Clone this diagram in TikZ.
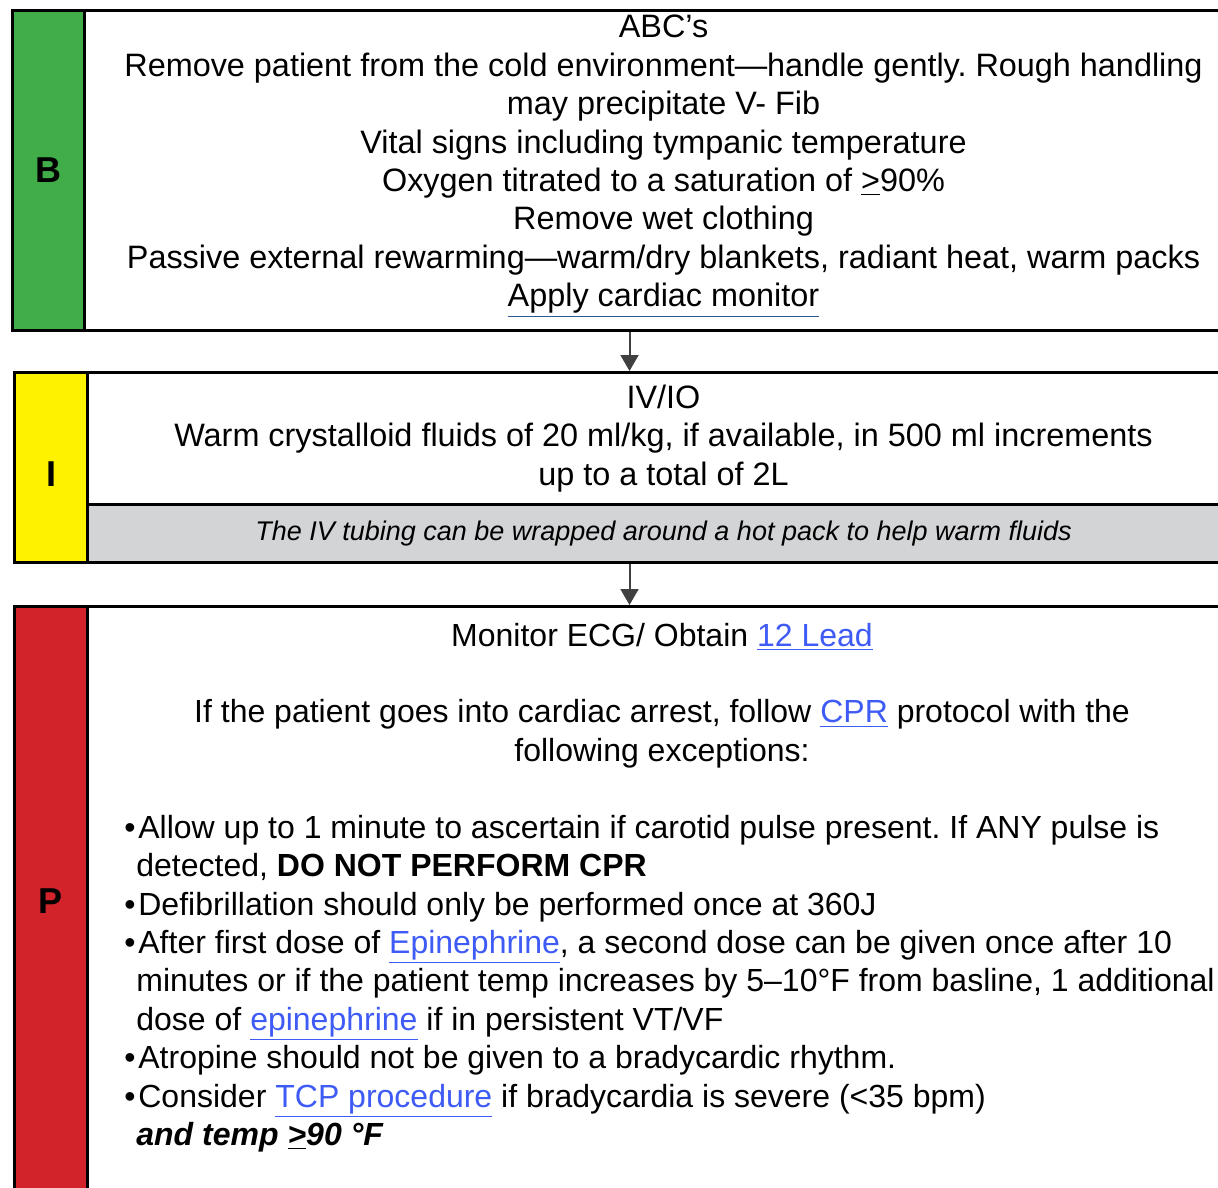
\documentclass[tikz,border=0pt]{standalone}
\usepackage{fontspec}
\setmainfont{Liberation Sans}
\usepackage{xcolor}
\usepackage{tikz}
\usetikzlibrary{arrows.meta, positioning}
\definecolor{bgreen}{HTML}{41AD49}
\definecolor{iyellow}{HTML}{FFF200}
\definecolor{pred}{HTML}{D2232A}
\definecolor{notegray}{HTML}{D3D4D6}
\definecolor{linkblue}{HTML}{3E5BF5}
\definecolor{ulblue}{HTML}{2B5797}
\definecolor{arrowgray}{HTML}{404040}
\newcommand{\lnk}[1]{{\color{linkblue}\underline{#1}}}
\newcommand{\bul}{\makebox[7pt][l]{\textbullet}}
\newcommand{\cont}{\hspace*{6pt}}
\frenchspacing
\tikzset{
    strip/.style = {rectangle, draw=black, line width=1.5pt, inner sep=0pt, minimum width=36.5pt, font=\fontsize{18}{18}\selectfont\bfseries},
    body/.style = {rectangle, draw=black, line width=1.5pt, fill=white, inner sep=0pt, minimum width=576pt, align=center, font=\fontsize{16.2}{19.2}\selectfont},
    note/.style = {body, fill=notegray, font=\fontsize{13.5}{16}\selectfont\itshape},
    txt/.style = {inner sep=0pt, font=\fontsize{16}{19.2}\selectfont},
    arrow/.style = {line width=1pt, draw=arrowgray, -{Triangle[length=8pt, width=9pt]}}
}
\begin{document}
\begin{tikzpicture}[x=1pt, y=1pt]
\useasboundingbox (0,0) rectangle (609,-593.5);

\node (bstrip) [strip, fill=bgreen, minimum width=36pt, minimum height=160pt, anchor=north west] at (5.5,-4.5) {B};
\node (bbody) [body, minimum width=579pt, minimum height=160pt, anchor=north west] at (41.5,-4.5) {ABC’s\\
Remove patient from the cold environment—handle gently. Rough handling\\
may precipitate V- Fib\\
Vital signs including tympanic temperature\\
Oxygen titrated to a saturation of \underline{>}90\%\\
Remove wet clothing\\
Passive external rewarming—warm/dry blankets, radiant heat, warm packs\\
{\color{ulblue}\underline{\color{black}Apply cardiac monitor}}\rule[-9.5pt]{0pt}{0pt}};

\node (istrip) [strip, fill=iyellow, minimum height=95pt, anchor=north west] at (6.5,-185.5) {I\rule{0pt}{19pt}};
\node (ibody) [body, minimum height=66pt, anchor=north west] at (43,-185.5) {IV/IO\\
Warm crystalloid fluids of 20 ml/kg, if available, in 500 ml increments\\
up to a total of 2L};
\node (inote) [note, minimum height=29pt, anchor=north west] at (43,-251.5) {The IV tubing can be wrapped around a hot pack to help warm fluids};

\node (pstrip) [strip, fill=pred, minimum height=295pt, anchor=north west] at (6.5,-302.5) {P};
\node (pbody) [body, minimum height=300pt, anchor=north west] at (43,-302.5) {};
\node (ptop) [txt, align=center, anchor=north] at (331,-311.3) {Monitor ECG/ Obtain \lnk{12 Lead}\\[19.2pt]
If the patient goes into cardiac arrest, follow \lnk{CPR} protocol with the\\
following exceptions:};
\node (plist) [txt, align=left, anchor=north west] at (62,-407.3) {\bul Allow up to 1 minute to ascertain if carotid pulse present. If ANY pulse is\\
\cont detected, \textbf{DO NOT PERFORM CPR}\\
\bul Defibrillation should only be performed once at 360J\\
\bul After first dose of \lnk{Epinephrine}, a second dose can be given once after 10\\
\cont minutes or if the patient temp increases by 5–10°F from basline, 1 additional\\
\cont dose of \lnk{epinephrine} if in persistent VT/VF\\
\bul Atropine should not be given to a bradycardic rhythm.\\
\bul Consider \lnk{TCP procedure} if bradycardia is severe (<35 bpm)\\
\cont \textbf{\textit{and temp \underline{>}90 °F}}};

\draw [arrow] ([xshift=-17pt]bbody.south) -- ([xshift=-17pt]ibody.north);
\draw [arrow] ([xshift=-17pt]inote.south) -- ([xshift=-17pt]pbody.north);
\end{tikzpicture}
\end{document}
